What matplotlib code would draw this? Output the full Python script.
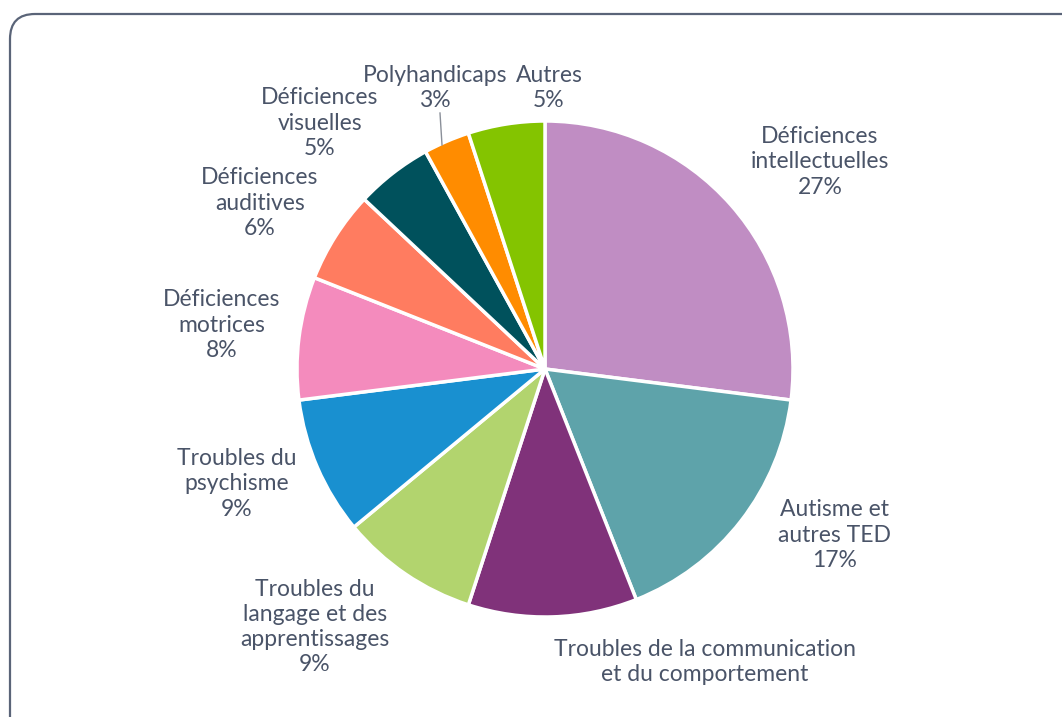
import matplotlib
matplotlib.use("Agg")
from matplotlib import pyplot as plt
from matplotlib.patches import FancyBboxPatch

labels = ["Déficiences\nintellectuelles", "Autisme et\nautres TED",
          "Troubles de la communication\net du comportement",
          "Troubles du\nlangage et des\napprentissages", "Troubles du\npsychisme",
          "Déficiences\nmotrices", "Déficiences\nauditives", "Déficiences\nvisuelles",
          "Polyhandicaps", "Autres"]
values = [27, 17, 11, 9, 9, 8, 6, 5, 3, 5]
show_pct = [True, True, False, True, True, True, True, True, True, True]
colors = ["#c08dc3", "#5ea3aa", "#80327a", "#b2d46e", "#1990d0",
          "#f48bbd", "#ff7c60", "#00515c", "#ff8c00", "#84c400"]

# label centres in pixel coords (y measured from top)
label_pos = [(820, 162), (835, 535), (705, 662), (315, 627), (237, 484),
             (222, 325), (260, 203), (320, 123), (435, 88), (549, 88)]

W, H = 1062, 717
txt_color = "#4a5468"
plt.rcParams['font.family'] = ['Lato', 'DejaVu Sans']

fig = plt.figure(figsize=(W / 100, H / 100), dpi=100)
ax = fig.add_axes([0, 0, 1, 1])

# rounded frame
frame = FancyBboxPatch((10, -40), W + 40, H - 14 + 40, boxstyle="round,pad=0,rounding_size=25",
                       fc="white", ec="#5a6478", lw=1.6, zorder=0)
ax.add_patch(frame)

cx, cy, r = 545, H - 369, 248
ax.pie(values, colors=colors, startangle=90, counterclock=False, center=(cx, cy), radius=r,
       wedgeprops=dict(edgecolor="white", linewidth=2.5), frame=True)
ax.set_xlim(0, W)
ax.set_ylim(0, H)
ax.set_aspect('equal')
ax.axis('off')

for lab, v, sp, (x, y) in zip(labels, values, show_pct, label_pos):
    s = lab + ("\n%d%%" % v if sp else "")
    ax.text(x, H - y, s, ha='center', va='center', multialignment='center',
            fontsize=16.5, fontweight='normal', color=txt_color, linespacing=1.25)

# leader line for Polyhandicaps
ax.plot([440, 442], [H - 113, H - 145], color="#8a8f99", lw=1)

fig.savefig("out.png", dpi=100)
